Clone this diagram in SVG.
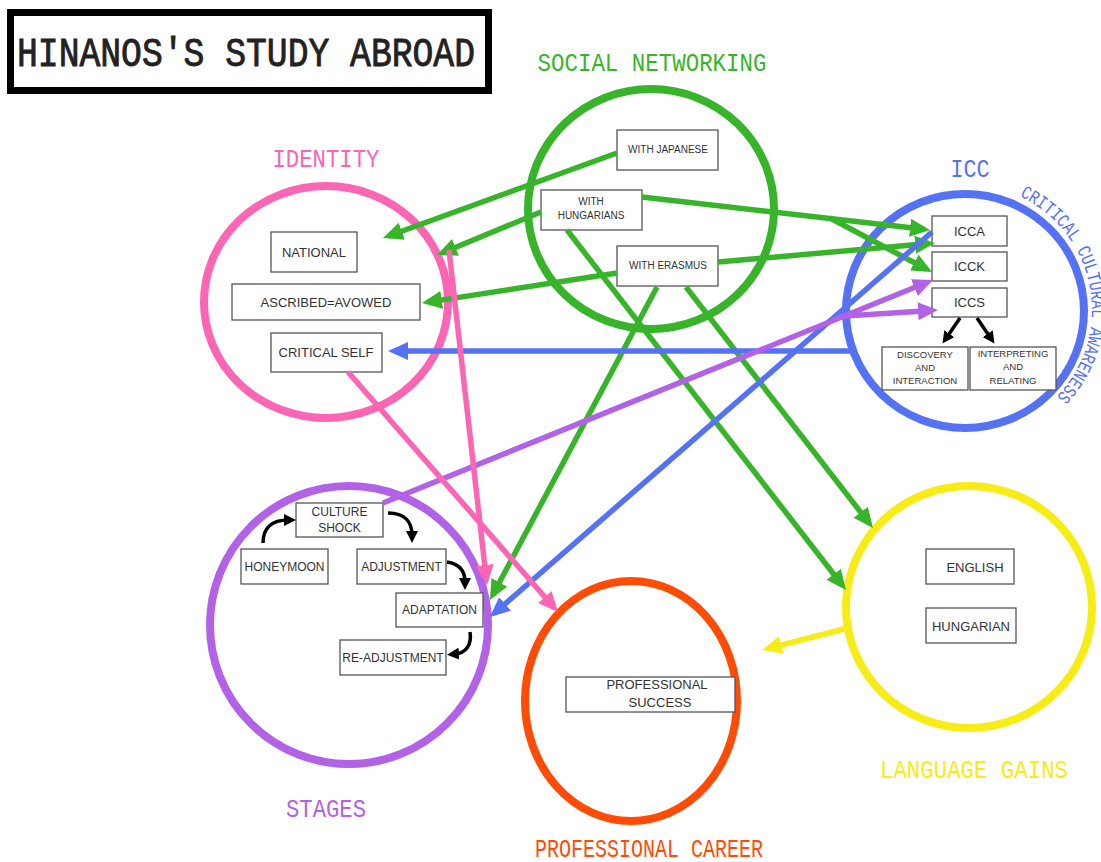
<svg xmlns="http://www.w3.org/2000/svg" width="1101" height="862" viewBox="0 0 1101 862">
<style>
.box{fill:#fff;stroke:#555;stroke-width:1.3}
.bt{font-family:"Liberation Sans",Arial,sans-serif;fill:#333;text-anchor:middle}
.hd{font-family:"Liberation Mono","Courier New",monospace;text-anchor:middle}
.circ{fill:none;stroke-width:8}
.ln{fill:none;stroke-width:5.5;stroke-linecap:butt}
.bk{fill:none;stroke:#000;stroke-width:3.5}
</style>
<defs>
<marker id="mg" viewBox="0 0 20 18" refX="14" refY="9" markerWidth="20" markerHeight="18" markerUnits="userSpaceOnUse" orient="auto"><path d="M0,0 L20,9 L0,18 z" fill="#38b42b"/></marker>
<marker id="mb" viewBox="0 0 20 18" refX="14" refY="9" markerWidth="20" markerHeight="18" markerUnits="userSpaceOnUse" orient="auto"><path d="M0,0 L20,9 L0,18 z" fill="#5672f4"/></marker>
<marker id="mp" viewBox="0 0 20 18" refX="14" refY="9" markerWidth="20" markerHeight="18" markerUnits="userSpaceOnUse" orient="auto"><path d="M0,0 L20,9 L0,18 z" fill="#b262e6"/></marker>
<marker id="mk" viewBox="0 0 20 18" refX="14" refY="9" markerWidth="20" markerHeight="18" markerUnits="userSpaceOnUse" orient="auto"><path d="M0,0 L20,9 L0,18 z" fill="#fa65b4"/></marker>
<marker id="my" viewBox="0 0 20 18" refX="14" refY="9" markerWidth="20" markerHeight="18" markerUnits="userSpaceOnUse" orient="auto"><path d="M0,0 L20,9 L0,18 z" fill="#f7ec16"/></marker>
<marker id="mx" viewBox="0 0 12 12" refX="4" refY="6" markerWidth="12" markerHeight="12" markerUnits="userSpaceOnUse" orient="auto"><path d="M0,0 L12,6 L0,12 z" fill="#000"/></marker>
<path id="arcICC" d="M1019.7,196.4 A125,125 0 0 1 1050,403"/>
</defs>

<g id="title">
<rect x="10.5" y="12.5" width="478" height="78" fill="#fff" stroke="#000" stroke-width="7"/>
<text x="246" y="66" class="hd" font-size="40" fill="#222" stroke="#222" stroke-width="0.9" textLength="458" lengthAdjust="spacingAndGlyphs">HINANOS'S STUDY ABROAD</text>
</g>

<g id="social-networking">
<ellipse cx="651" cy="209" rx="123" ry="120" class="circ" stroke="#38b42b"/>
<text x="652" y="71" class="hd" font-size="25" fill="#38b42b" textLength="229" lengthAdjust="spacingAndGlyphs">SOCIAL NETWORKING</text>
<rect x="617" y="130" width="101" height="40" class="box"/>
<text x="668" y="153" class="bt" font-size="10">WITH JAPANESE</text>
<rect x="541" y="190" width="101" height="40" class="box"/>
<text x="591" y="205" class="bt" font-size="10">WITH</text>
<text x="591" y="219" class="bt" font-size="10">HUNGARIANS</text>
<rect x="617" y="246" width="101" height="40" class="box"/>
<text x="668" y="269" class="bt" font-size="10">WITH ERASMUS</text>
</g>

<g id="identity">
<ellipse cx="326" cy="302" rx="122" ry="116" class="circ" stroke="#fa65b4"/>
<text x="326" y="167" class="hd" font-size="25" fill="#fa65b4" textLength="107" lengthAdjust="spacingAndGlyphs">IDENTITY</text>
<rect x="271" y="232" width="86" height="40" class="box"/>
<text x="314" y="257" class="bt" font-size="13">NATIONAL</text>
<rect x="232" y="284" width="188" height="36" class="box"/>
<text x="326" y="307" class="bt" font-size="13">ASCRIBED=AVOWED</text>
<rect x="271" y="333" width="111" height="39" class="box"/>
<text x="326" y="357" class="bt" font-size="13">CRITICAL SELF</text>
</g>

<g id="icc">
<ellipse cx="965" cy="311" rx="119" ry="117" class="circ" stroke="#5672f4"/>
<text x="970" y="177" class="hd" font-size="25" fill="#5672f4" textLength="39" lengthAdjust="spacingAndGlyphs">ICC</text>
<text font-family="Liberation Mono,'Courier New',monospace" font-size="19" fill="#5672f4"><textPath href="#arcICC" textLength="238" lengthAdjust="spacingAndGlyphs">CRITICAL CULTURAL AWARENESS</textPath></text>
<rect x="932" y="216" width="75" height="30" class="box"/>
<text x="969.5" y="236" class="bt" font-size="13">ICCA</text>
<rect x="932" y="252" width="75" height="29" class="box"/>
<text x="969.5" y="271" class="bt" font-size="13">ICCK</text>
<rect x="932" y="288" width="75" height="29" class="box"/>
<text x="969.5" y="307" class="bt" font-size="13">ICCS</text>
<rect x="882" y="347" width="86" height="43" class="box"/>
<text x="925" y="358" class="bt" font-size="9.5">DISCOVERY</text>
<text x="925" y="371" class="bt" font-size="9.5">AND</text>
<text x="925" y="384" class="bt" font-size="9.5">INTERACTION</text>
<rect x="970" y="347" width="86" height="43" class="box"/>
<text x="1013" y="357" class="bt" font-size="9.5">INTERPRETING</text>
<text x="1013" y="370" class="bt" font-size="9.5">AND</text>
<text x="1013" y="384" class="bt" font-size="9.5">RELATING</text>
<path d="M960,318 L947,337" class="bk" marker-end="url(#mx)"/>
<path d="M977,318 L990,337" class="bk" marker-end="url(#mx)"/>
</g>

<g id="stages">
<ellipse cx="349" cy="625" rx="139" ry="139" class="circ" stroke="#b262e6"/>
<text x="326" y="817" class="hd" font-size="25" fill="#b262e6" textLength="80" lengthAdjust="spacingAndGlyphs">STAGES</text>
<rect x="296" y="503" width="87" height="34" class="box"/>
<text x="339.5" y="516" class="bt" font-size="12">CULTURE</text>
<text x="339.5" y="532" class="bt" font-size="12">SHOCK</text>
<rect x="241" y="549" width="87" height="35" class="box"/>
<text x="284.5" y="571" class="bt" font-size="12">HONEYMOON</text>
<rect x="357" y="549" width="89" height="35" class="box"/>
<text x="401.5" y="571" class="bt" font-size="12">ADJUSTMENT</text>
<rect x="396" y="593" width="87" height="34" class="box"/>
<text x="439.5" y="614" class="bt" font-size="12">ADAPTATION</text>
<rect x="340" y="640" width="106" height="35" class="box"/>
<text x="393" y="662" class="bt" font-size="12">RE-ADJUSTMENT</text>
<path d="M263,543 C263,528 272,520 288,520" class="bk" marker-end="url(#mx)"/>
<path d="M388,513 C405,513 412,522 412,535" class="bk" marker-end="url(#mx)"/>
<path d="M447,562 C460,564 465,572 465,582" class="bk" marker-end="url(#mx)"/>
<path d="M470,632 C472,645 466,653 455,654" class="bk" marker-end="url(#mx)"/>
</g>

<g id="professional-career">
<ellipse cx="631" cy="701" rx="106" ry="120" class="circ" stroke="#ff4c05"/>
<text x="649" y="857" class="hd" font-size="25" fill="#ff4c05" textLength="228" lengthAdjust="spacingAndGlyphs">PROFESSIONAL CAREER</text>
<rect x="566" y="677" width="169" height="35" class="box"/>
<text x="657" y="689" class="bt" font-size="13">PROFESSIONAL</text>
<text x="660" y="707" class="bt" font-size="13">SUCCESS</text>
</g>

<g id="language-gains">
<ellipse cx="969" cy="607" rx="123" ry="121" class="circ" stroke="#f7ec16"/>
<text x="974" y="778" class="hd" font-size="25" fill="#f7ec16" textLength="188" lengthAdjust="spacingAndGlyphs">LANGUAGE GAINS</text>
<rect x="926" y="549" width="88" height="35" class="box"/>
<text x="975" y="572" class="bt" font-size="13">ENGLISH</text>
<rect x="926" y="608" width="90" height="35" class="box"/>
<text x="971" y="631" class="bt" font-size="13">HUNGARIAN</text>
</g>

<g id="connectors">
<path d="M617,153 L388.6,236" class="ln" stroke="#38b42b" marker-end="url(#mg)"/>
<path d="M541,212 L442.5,252.7" class="ln" stroke="#38b42b" marker-end="url(#mg)"/>
<path d="M617,273 L427.9,302.1" class="ln" stroke="#38b42b" marker-end="url(#mg)"/>
<path d="M642,197 L924,229.3" class="ln" stroke="#38b42b" marker-end="url(#mg)"/>
<path d="M830,218 L926.7,269.2" class="ln" stroke="#38b42b" marker-end="url(#mg)"/>
<path d="M718,262 L929,243.5" class="ln" stroke="#38b42b" marker-end="url(#mg)"/>
<path d="M567,230 L842.3,585.3" class="ln" stroke="#38b42b" marker-end="url(#mg)"/>
<path d="M686,287 L869.3,523.3" class="ln" stroke="#38b42b" marker-end="url(#mg)"/>
<path d="M657,287 L492.8,594.7" class="ln" stroke="#38b42b" marker-end="url(#mg)"/>
<path d="M852,351 L394,351" class="ln" stroke="#5672f4" marker-end="url(#mb)"/>
<path d="M932,232 L494.5,613.1" class="ln" stroke="#5672f4" marker-end="url(#mb)"/>
<path d="M383,503 L927.4,282.3" class="ln" stroke="#b262e6" marker-end="url(#mp)"/>
<path d="M845,316 L932,310.4" class="ln" stroke="#b262e6" marker-end="url(#mp)"/>
<path d="M449,250 L486.3,579" class="ln" stroke="#fa65b4" marker-end="url(#mk)"/>
<path d="M348,372 L554,607.5" class="ln" stroke="#fa65b4" marker-end="url(#mk)"/>
<path d="M848,628 L767.8,648.5" class="ln" stroke="#f7ec16" marker-end="url(#my)"/>
</g>
</svg>
